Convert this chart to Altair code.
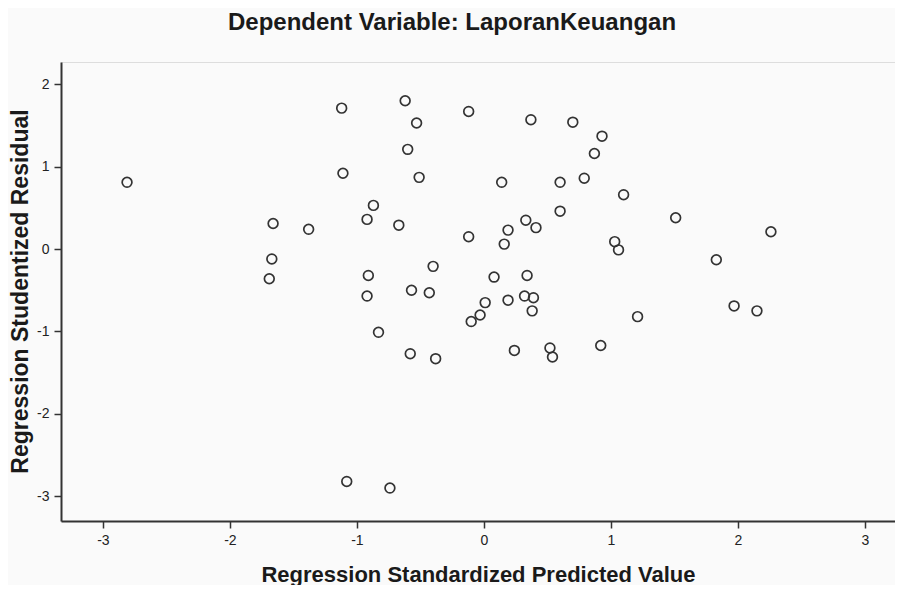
import altair as alt
import pandas as pd

# Regression Standardized Predicted Value
pred = [-2.81, -1.12, -1.11, -0.62, -0.53, -0.60, -0.51, -0.12, 0.14, 0.37,
        0.70, 0.93, 0.87, 0.60, 0.79, 1.10, 0.60, 0.33, 0.41, 0.19,
        0.16, -0.12, 1.03, 1.06, -0.87, -0.92, -0.67, -1.66, -1.38, -1.67,
        -1.69, -0.91, -0.40, 0.08, 0.34, -0.92, -0.57, -0.43, 0.01, 0.19,
        0.32, 0.39, 0.38, -0.03, -0.10, 1.21, -0.83, 0.24, 0.52, 0.54,
        0.92, -0.58, -0.38, 1.97, 2.15, 1.83, 1.51, 2.26, -1.08, -0.74]
# Regression Studentized Residual
resid = [0.81, 1.71, 0.92, 1.80, 1.53, 1.21, 0.87, 1.67, 0.81, 1.57,
         1.54, 1.37, 1.16, 0.81, 0.86, 0.66, 0.46, 0.35, 0.26, 0.23,
         0.06, 0.15, 0.09, -0.01, 0.53, 0.36, 0.29, 0.31, 0.24, -0.12,
         -0.36, -0.32, -0.21, -0.34, -0.32, -0.57, -0.50, -0.53, -0.65, -0.62,
         -0.57, -0.59, -0.75, -0.80, -0.88, -0.82, -1.01, -1.23, -1.20, -1.31,
         -1.17, -1.27, -1.33, -0.69, -0.75, -0.13, 0.38, 0.21, -2.82, -2.90]

x_ticks = [-3, -2, -1, 0, 1, 2, 3]
y_ticks = [-3, -2, -1, 0, 1, 2]

df = pd.DataFrame({"pred": pred, "resid": resid})

FONT = "Liberation Sans"
LABEL_FONT = "Liberation Sans Narrow, Liberation Sans, Arial"

common_axis = dict(
    grid=False, tickSize=7, labelFontSize=14, labelFont=LABEL_FONT,
    labelColor="#222222", tickColor="#333333", domainColor="#333333",
    domainWidth=2, tickWidth=1.5, titleFont=FONT, titleFontWeight="bold",
    titleColor="#1a1a1a", titleBaseline="alphabetic",
    labelExpr="'' + datum.value",
)

chart = alt.Chart(df).mark_point(
    shape="circle", filled=False, size=95, strokeWidth=1.7, color="#333333", opacity=1
).encode(
    x=alt.X("pred:Q", scale=alt.Scale(domain=[-3.33, 3.237], nice=False, zero=False),
            axis=alt.Axis(values=x_ticks, title="Regression Standardized Predicted Value",
                          labelPadding=5, titleFontSize=22, titleY=60,
                          **common_axis)),
    y=alt.Y("resid:Q", scale=alt.Scale(domain=[-3.30, 2.27], nice=False, zero=False),
            axis=alt.Axis(values=y_ticks, title="Regression Studentized Residual",
                          labelPadding=5, titleFontSize=23, titleAngle=-90,
                          titleX=-34, titleY=229, titleAlign="center",
                          **common_axis)),
).properties(
    width=834,
    height=459,
    autosize=alt.AutoSizeParams(type="none"),
    padding={"left": 53, "top": 54, "right": 0, "bottom": 64},
    title=alt.TitleParams("Dependent Variable: LaporanKeuangan", font=FONT, fontSize=24,
                          fontWeight="bold", color="#1a1a1a", offset=27, dx=-26,
                          anchor="middle"),
).configure_view(
    stroke="#333333", strokeWidth=2
).configure(background="#fafafa")

chart.save("out.html", embed_options={"renderer": "svg", "actions": False})
